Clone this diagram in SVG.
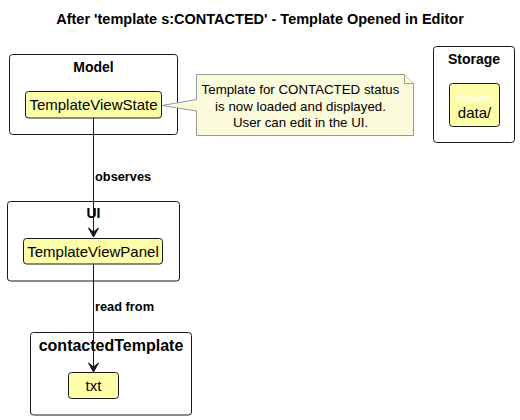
<svg xmlns="http://www.w3.org/2000/svg" width="520" height="420" viewBox="0 0 520 420">
<style>
text{font-family:"Liberation Sans",Arial,sans-serif;fill:#000}
.title{font-size:14.5px;font-weight:bold}
.frame{fill:#fff;stroke:#181818;stroke-width:1}
.flabel{font-size:14px;font-weight:bold}
.node{fill:#FEFEA8;stroke:#181818;stroke-width:1}
.ntext{font-size:15px}
.note{fill:#FBFBDB;stroke:#999;stroke-width:1}
.notetext{font-size:13.3px}
.edge{stroke:#181818;stroke-width:1;fill:none}
.elabel{font-size:12.8px;font-weight:bold}
.head{fill:#181818;stroke:#181818;stroke-width:1}
</style>
<rect width="520" height="420" fill="#fff"/>
<text class="title" x="260" y="24" text-anchor="middle">After 'template s:CONTACTED' - Template Opened in Editor</text>

<g id="Model">
<rect class="frame" x="9.5" y="54.5" width="168" height="80" rx="3"/>
<text class="flabel" x="93.5" y="72" text-anchor="middle">Model</text>
</g>
<g id="TemplateViewState">
<rect class="node" x="25.5" y="91.5" width="136" height="26.5" rx="3"/>
<text class="ntext" x="93.5" y="110" text-anchor="middle">TemplateViewState</text>
</g>

<g id="Storage">
<rect class="frame" x="433.5" y="46.5" width="81" height="96" rx="3"/>
<text class="flabel" x="474" y="64" text-anchor="middle">Storage</text>
</g>
<g id="data">
<rect class="node" x="449.5" y="83.5" width="50" height="43" rx="3"/>
<text x="474.5" y="101.5" text-anchor="middle" style="font-size:11px;font-style:italic;fill:#fff">«folder»</text>
<text class="ntext" x="474.5" y="117.5" text-anchor="middle">data/</text>
</g>

<g id="UI">
<rect class="frame" x="7.5" y="201.5" width="172" height="79.5" rx="3"/>
<text class="flabel" x="93.5" y="217.5" text-anchor="middle">UI</text>
</g>
<g id="TemplateViewPanel">
<rect class="node" x="23.5" y="238.5" width="139" height="25.5" rx="3"/>
<text class="ntext" x="93" y="256.5" text-anchor="middle">TemplateViewPanel</text>
</g>

<g id="contactedTemplate">
<rect class="frame" x="30.5" y="332.5" width="161" height="82.5" rx="3"/>
<text x="111" y="350.5" text-anchor="middle" style="font-size:16px;font-weight:bold">contactedTemplate</text>
</g>
<g id="txt">
<rect class="node" x="68.5" y="372.5" width="50" height="26" rx="3"/>
<text class="ntext" x="93.5" y="390.5" text-anchor="middle">txt</text>
</g>

<g id="note">
<path class="note" d="M196.5,74.5 L404.5,74.5 L413.5,83.5 L413.5,135.5 L196.5,135.5 L196.5,111 L162,105.5 L196.5,99.5 Z"/>
<path class="note" d="M404.5,74.5 L404.5,83.5 L413.5,83.5"/>
<text class="notetext" x="300.5" y="94" text-anchor="middle">Template for CONTACTED status</text>
<text class="notetext" x="300.5" y="110.5" text-anchor="middle">is now loaded and displayed.</text>
<text class="notetext" x="300.5" y="127" text-anchor="middle">User can edit in the UI.</text>
</g>

<g id="connectors">
<path class="edge" d="M93.5,118 L93.5,236"/>
<polygon class="head" points="93.5,237 88.5,228 93.5,232 98.5,228"/>
<text class="elabel" x="95" y="181">observes</text>
<path class="edge" d="M93.5,264 L93.5,371"/>
<polygon class="head" points="93.5,372 88.5,363 93.5,367 98.5,363"/>
<text class="elabel" x="95" y="311">read from</text>
</g>
</svg>
